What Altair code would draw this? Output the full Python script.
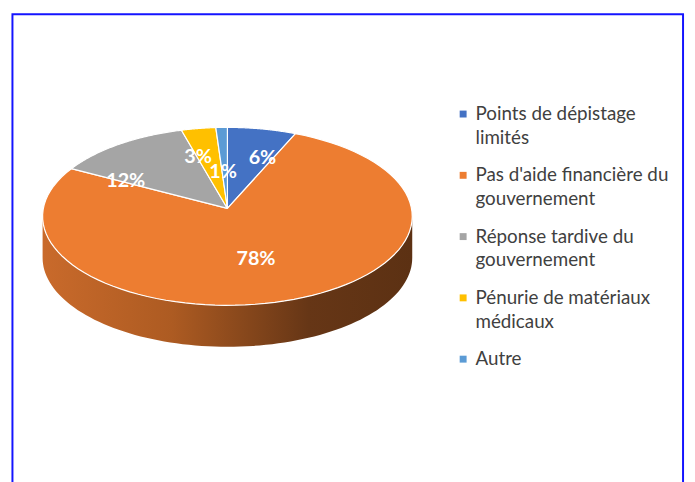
import json
import altair as alt
import pandas as pd

# ---- data ----
categories = [
    "Points de dépistage limités",
    "Pas d'aide financière du gouvernement",
    "Réponse tardive du gouvernement",
    "Pénurie de matériaux médicaux",
    "Autre",
]
values = [6, 78, 12, 3, 1]
colors = ["#4472C4", "#ED7D31", "#A5A5A5", "#FFC000", "#5B9BD5"]
legend_lines = [
    ["Points de dépistage", "limités"],
    ["Pas d'aide financière du", "gouvernement"],
    ["Réponse tardive du", "gouvernement"],
    ["Pénurie de matériaux", "médicaux"],
    ["Autre", "\u00a0"],
]

# ---- geometry / style ----
W, H = 687, 474
RX, RY, DEPTH, N = 187, 90, 42, 90
CX, CY = 222, 208  # pie centre inside the chart (pixels)
APEX_DY = 8        # perspective: apex drawn slightly above the ellipse centre
FONT = "Lato"

df = pd.DataFrame({"category": categories, "value": values, "order": list(range(len(categories)))})

xscale = alt.Scale(domain=[-CX, W - CX], nice=False, zero=False)
yscale = alt.Scale(domain=[-(H - CY), CY], nice=False, zero=False)

label_expr = ""
for cat, lines in zip(categories, legend_lines):
    label_expr += f"datum.label === {json.dumps(cat, ensure_ascii=False)} ? {json.dumps(lines, ensure_ascii=False)} : "
label_expr += "datum.label"

base = (
    alt.Chart(df)
    .transform_window(cum="sum(value)", sort=[alt.SortField("order")], frame=[None, 0])
    .transform_joinaggregate(total="sum(value)")
    .transform_calculate(
        a0="2*PI*(datum.cum-datum.value)/datum.total",
        a1="2*PI*datum.cum/datum.total",
    )
)

# side wall of the 3D pie (front half)
side = (
    alt.Chart(alt.Data(values=[{"k": 0}]))
    .transform_calculate(step=f"sequence(0, {2 * N + 2})")
    .transform_flatten(["step"])
    .transform_calculate(
        t=f"datum.step <= {N} ? PI/2 + PI*datum.step/{N} : 3*PI/2 - PI*(datum.step-{N + 1})/{N}",
        px=f"{RX}*sin(datum.t)",
        py=f"datum.step <= {N} ? {RY}*cos(datum.t) : {RY}*cos(datum.t) - {DEPTH}",
    )
    .mark_line(
        fill=alt.Gradient(
            gradient="linear",
            stops=[
                alt.GradientStop(offset=0, color="#c96a2b"),
                alt.GradientStop(offset=0.35, color="#ad5b22"),
                alt.GradientStop(offset=0.72, color="#663616"),
                alt.GradientStop(offset=1, color="#5c3113"),
            ],
            x1=0, x2=1, y1=0, y2=0,
        ),
        strokeOpacity=0,
    )
    .encode(
        x=alt.X("px:Q", scale=xscale, axis=None),
        y=alt.Y("py:Q", scale=yscale, axis=None),
        order="step:Q",
    )
)

slices = (
    base.transform_calculate(step=f"sequence(-1, {N + 2})")
    .transform_flatten(["step"])
    .transform_calculate(
        t=f"datum.a0 + (datum.a1-datum.a0)*clamp(datum.step,0,{N})/{N}",
        px=f"(datum.step < 0 || datum.step > {N}) ? 0 : {RX}*sin(datum.t)",
        py=f"(datum.step < 0 || datum.step > {N}) ? {APEX_DY} : {RY}*cos(datum.t)",
    )
    .mark_line(stroke="white", strokeWidth=1.2, strokeJoin="round")
    .encode(
        x=alt.X("px:Q", scale=xscale, axis=None),
        y=alt.Y("py:Q", scale=yscale, axis=None),
        order="step:Q",
        detail="category:N",
        fill=alt.Fill(
            "category:N",
            scale=alt.Scale(domain=categories, range=colors),
            sort=categories,
            legend=alt.Legend(
                title=None,
                orient="none",
                legendX=451,
                legendY=95,
                symbolType="square",
                symbolSize=49,
                symbolStrokeWidth=0,
                labelFont=FONT,
                labelFontSize=19,
                labelColor="#404040",
                labelOffset=3,
                labelLimit=300,
                labelBaseline="middle",
                gridAlign="all",
                rowPadding=18,
                padding=0,
                labelExpr=label_expr,
            ),
        ),
    )
)

# data labels: mid-angle, spread away from 12 o'clock on the far half (perspective look)
labels = (
    base.transform_calculate(
        m="(datum.a0+datum.a1)/2 > PI ? (datum.a0+datum.a1)/2 - 2*PI : (datum.a0+datum.a1)/2",
    )
    .transform_calculate(
        la="abs(datum.m) < PI/2 ? 1.5*datum.m : datum.m",
        r="(datum.value < 2 || datum.value > 50) ? 0.5 : 0.68",
    )
    .transform_calculate(
        lx=f"datum.r*{RX}*sin(datum.la)",
        ly=f"datum.r*{RY}*cos(datum.la)",
        label="datum.value + '%'",
    )
    .mark_text(color="white", fontWeight="bold", fontSize=20, font=FONT)
    .encode(
        x=alt.X("lx:Q", scale=xscale, axis=None),
        y=alt.Y("ly:Q", scale=yscale, axis=None),
        text="label:N",
    )
)

border = (
    alt.Chart(alt.Data(values=[{"k": 0}]))
    .mark_rect(fill="transparent", stroke="#1414ff", strokeWidth=2)
    .encode(x=alt.value(4.5), x2=alt.value(683), y=alt.value(3.5), y2=alt.value(H + 30))
)

chart = (
    alt.layer(side, slices, labels, border)
    .properties(width=W, height=H, padding=0, autosize=alt.AutoSizeParams(type="none"))
    .configure(background="white", style={"guide-label": {"lineHeight": 24}})
    .configure_view(stroke="transparent")
)

chart.save("out.html", embed_options={"renderer": "svg", "actions": False})
